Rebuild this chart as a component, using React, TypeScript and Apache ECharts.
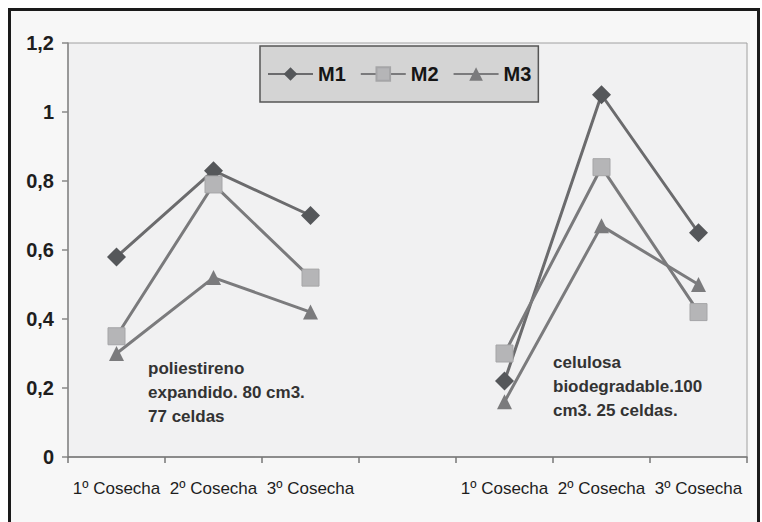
import React, { useEffect, useRef } from "react";
import * as echarts from "echarts";

const categories = ["1º Cosecha", "2º Cosecha", "3º Cosecha", "", "1º Cosecha", "2º Cosecha", "3º Cosecha"];
const seriesNames = ["M1", "M2", "M3"];
const m1 = [0.58, 0.83, 0.7, null, 0.22, 1.05, 0.65];
const m2 = [0.35, 0.79, 0.52, null, 0.3, 0.84, 0.42];
const m3 = [0.3, 0.52, 0.42, null, 0.16, 0.67, 0.5];
const yTicks = { min: 0, max: 1.2, interval: 0.2 };
const noteLeft = ["poliestireno", "expandido. 80 cm3.", "77 celdas"];
const noteRight = ["celulosa", "biodegradable.100", "cm3. 25 celdas."];

const FONT = "'Liberation Sans', Arial, sans-serif";

export default function App() {
  const ref = useRef<HTMLDivElement>(null);
  useEffect(() => {
    if (!ref.current) return;
    const chart = echarts.init(ref.current, undefined, { renderer: "svg" });
    const mk = (name: string, data: (number | null)[], symbol: string, size: number, mcolor: string, lcolor: string, border?: string) => ({
      name,
      type: "line",
      data,
      connectNulls: false,
      symbol,
      symbolSize: size,
      showAllSymbol: true,
      lineStyle: { color: lcolor, width: 3 },
      itemStyle: { color: mcolor, borderColor: border || mcolor, borderWidth: border ? 1 : 0 },
      z: 3,
    });
    chart.setOption({
      animation: false,
      backgroundColor: "#ffffff",
      textStyle: { fontFamily: FONT },
      grid: {
        left: 68,
        right: 15,
        top: 43,
        bottom: 65,
        show: true,
        backgroundColor: "#f1f1f2",
        borderColor: "#a0a0a0",
        borderWidth: 1,
        containLabel: false,
      },
      legend: {
        data: seriesNames,
        left: 260,
        top: 46,
        itemWidth: 45,
        itemHeight: 17,
        itemGap: 14,
        padding: [18, 7],
        backgroundColor: "#d4d4d4",
        borderColor: "#555555",
        borderWidth: 1.5,
        textStyle: { fontFamily: FONT, fontWeight: "bold", fontSize: 20, color: "#151515" },
      },
      xAxis: {
        type: "category",
        data: categories,
        boundaryGap: true,
        axisLine: { lineStyle: { color: "#777777", width: 1.5 } },
        axisTick: { show: true, interval: 0, length: 6, lineStyle: { color: "#777777", width: 1.5 } },
        axisLabel: { interval: 0, fontFamily: FONT, fontSize: 17, color: "#1e1e1e", margin: 23 },
        splitLine: { show: false },
      },
      yAxis: {
        type: "value",
        min: yTicks.min,
        max: yTicks.max,
        interval: yTicks.interval,
        axisLine: { show: true, lineStyle: { color: "#888888", width: 1.5 } },
        axisTick: { show: true, length: 6, lineStyle: { color: "#888888", width: 1.5 } },
        splitLine: { show: false },
        axisLabel: {
          fontFamily: FONT,
          fontWeight: "bold",
          fontSize: 20,
          color: "#1e1e1e",
          margin: 14,
          formatter: (v: number) => String(Math.round(v * 10) / 10).replace(".", ","),
        },
      },
      series: [
        mk("M1", m1, "diamond", 19, "#55575a", "#6b6b6d"),
        mk("M2", m2, "rect", 17, "#b5b5b7", "#7a7a7c", "#a5a5a7"),
        mk("M3", m3, "triangle", 15, "#7b7b7d", "#7b7b7d"),
      ],
      graphic: [
        {
          type: "rect",
          z: -10,
          silent: true,
          shape: { x: 9.5, y: 9.5, width: 749, height: 540 },
          style: { fill: "#f7f7f7", stroke: "#1a1a1a", lineWidth: 3 },
        },
        {
          type: "text",
          z: 50,
          left: 148,
          top: 356,
          style: {
            text: noteLeft.join("\n"),
            font: `bold 17px ${FONT}`,
            fill: "#333333",
            lineHeight: 24,
          },
        },
        {
          type: "text",
          z: 50,
          left: 553,
          top: 350,
          style: {
            text: noteRight.join("\n"),
            font: `bold 17px ${FONT}`,
            fill: "#333333",
            lineHeight: 24,
          },
        },
      ],
    });
    return () => chart.dispose();
  }, []);
  return <div ref={ref} style={{ position: "absolute", left: 0, top: 0, width: 762, height: 522 }} />;
}
